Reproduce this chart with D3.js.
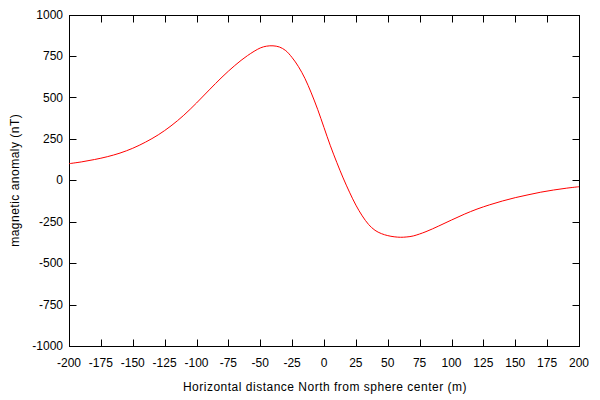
<!DOCTYPE html>
<html>
<head>
<meta charset="utf-8">
<script src="https://cdn.jsdelivr.net/npm/d3@7"></script>
<style>
  html, body { margin: 0; padding: 0; background: #fff; }
  svg { display: block; }
  text { font-family: "Liberation Sans", Arial, sans-serif; font-size: 12px; fill: #000; }
  .title { letter-spacing: 0.5px; }
</style>
</head>
<body>
<svg id="chart" width="600" height="400"></svg>
<script>
const distances = [-200,-190,-180,-170,-160,-150,-140,-130,-120,-110,-100,-90,-80,-70,-60,-50,-45,-40,-35,-30,-25,-20,-15,-10,-5,0,5,10,15,20,25,30,35,40,45,50,55,60,65,70,80,90,100,110,120,130,140,150,160,170,180,190,200];
const anomaly   = [100,111,125,142,164,193,230,274,328,392,466,545,622,692,752,798,809,811,804,782,740,685,615,527,428,318,208,108,14,-72,-150,-215,-267,-302,-322,-334,-341,-344,-342,-336,-310,-276,-240,-205,-174,-148,-125,-105,-88,-72,-59,-48,-39];
const xTicks = [-200,-175,-150,-125,-100,-75,-50,-25,0,25,50,75,100,125,150,175,200];
const yTicks = [-1000,-750,-500,-250,0,250,500,750,1000];
const xLabel = "Horizontal distance North from sphere center (m)";
const yLabel = "magnetic anomaly (nT)";

const L = 69, R = 579, T = 14.5, B = 346;
const svg = d3.select("#chart");
const x = d3.scaleLinear().domain([-200, 200]).range([L, R]);
const y = d3.scaleLinear().domain([-1000, 1000]).range([B, T]);
const crisp = v => Math.round(v) + 0.5;
const tickLen = 7;

const g = svg.append("g");

// ticks (inward, mirrored)
xTicks.forEach(t => {
  const px = crisp(x(t));
  g.append("line").attr("x1", px).attr("x2", px).attr("y1", crisp(B)).attr("y2", crisp(B) - tickLen).attr("stroke", "#000");
  g.append("line").attr("x1", px).attr("x2", px).attr("y1", crisp(T)).attr("y2", crisp(T) + tickLen).attr("stroke", "#000");
  g.append("text").attr("x", x(t)).attr("y", B + 17).attr("dy", "0.35em").attr("text-anchor", "middle").text(t);
});
yTicks.forEach(t => {
  const py = crisp(y(t));
  g.append("line").attr("x1", crisp(L)).attr("x2", crisp(L) + tickLen).attr("y1", py).attr("y2", py).attr("stroke", "#000");
  g.append("line").attr("x1", crisp(R)).attr("x2", crisp(R) - tickLen).attr("y1", py).attr("y2", py).attr("stroke", "#000");
  g.append("text").attr("x", L - 6).attr("y", y(t)).attr("dy", "0.35em").attr("text-anchor", "end").text(t);
});

// border
g.append("rect").attr("x", crisp(L)).attr("y", crisp(T)).attr("width", crisp(R) - crisp(L)).attr("height", crisp(B) - crisp(T))
  .attr("fill", "none").attr("stroke", "#000");

// curve
const data = distances.map((d, i) => ({ d, v: anomaly[i] }));
const line = d3.line().x(p => x(p.d)).y(p => y(p.v)).curve(d3.curveCatmullRom.alpha(0.5));
svg.append("path").datum(data).attr("d", line).attr("fill", "none").attr("stroke", "#ff0000").attr("stroke-width", 1);

// axis titles
svg.append("text").attr("class", "title").attr("x", 325).attr("y", 387).attr("dy", "0.35em").attr("text-anchor", "middle").text(xLabel);
svg.append("text").attr("class", "title").attr("transform", `translate(15,${(T + B) / 2}) rotate(-90)`).attr("dy", "0.35em").attr("text-anchor", "middle").text(yLabel);
</script>
</body>
</html>
